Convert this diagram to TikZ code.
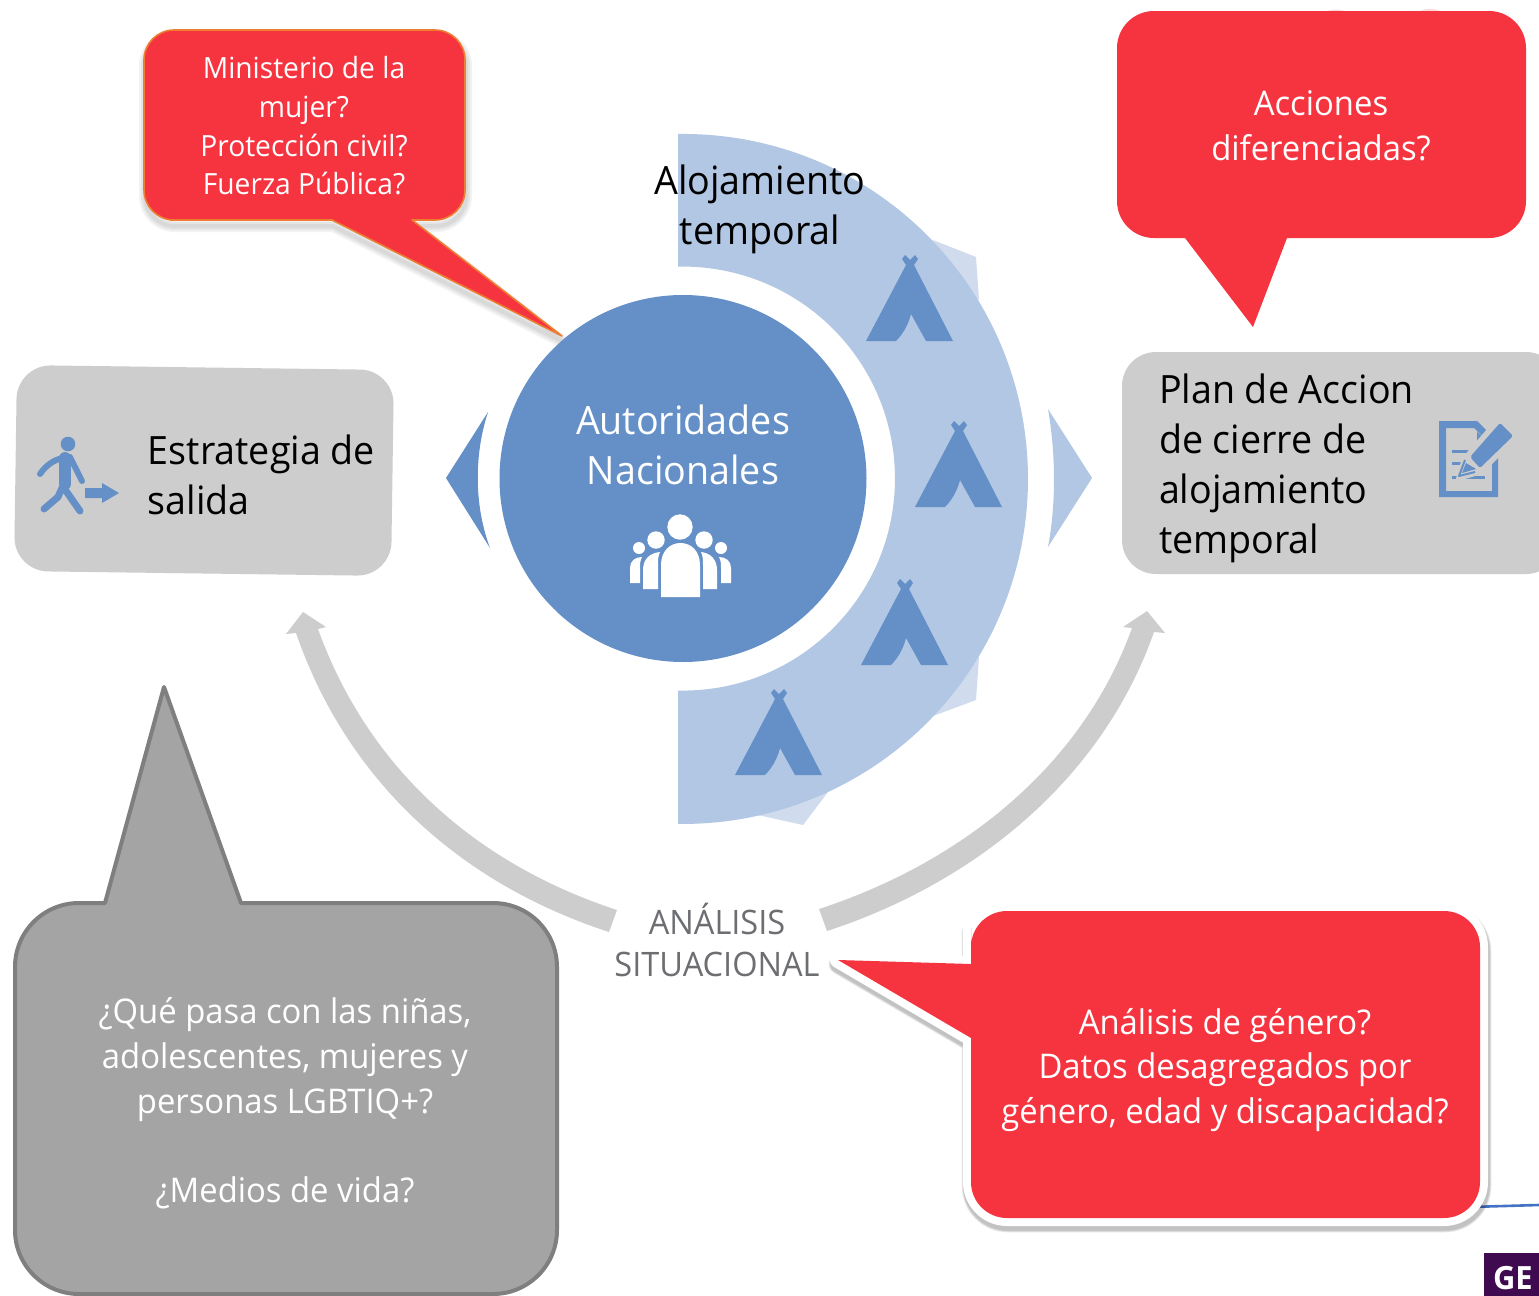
\documentclass[tikz,border=0pt]{standalone}
\usepackage{fontspec}
\setmainfont[FakeStretch=0.965]{Open Sans}
\definecolor{redc}{HTML}{F63440}
\definecolor{blued}{HTML}{6490C7}
\definecolor{bluel}{HTML}{B2C7E3}
\definecolor{bluep}{HTML}{D0DCED}
\definecolor{grayb}{HTML}{CDCDCD}
\definecolor{grayc}{HTML}{A4A4A4}
\definecolor{graye}{HTML}{7F7F7F}
\definecolor{graytxt}{HTML}{6D6E71}
\definecolor{orangec}{HTML}{ED7D31}
\definecolor{purp}{HTML}{3F0A4F}
\definecolor{lineb}{HTML}{4472C4}
\definecolor{pinkp}{HTML}{FBDDDF}
\newcommand\pathA{(300,30) [rounded corners=15pt] -- (144,30) -- (144,220) -- (200,220) [sharp corners] -- (332,220) -- (562,336) -- (412,220) [rounded corners=15pt] -- (465,220) -- (465,30) -- cycle}
\newcommand\pathB{(1154,11) -- (1489,11) .. controls (1509.4,11) and (1526,27.6) .. (1526,48) -- (1526,201) .. controls (1526,221.4) and (1509.4,238) .. (1489,238) -- (1287,238) -- (1253,327) -- (1185,238) -- (1154,238) .. controls (1133.6,238) and (1117,221.4) .. (1117,201) -- (1117,48) .. controls (1117,27.6) and (1133.6,11) .. (1154,11) -- cycle}
\newcommand\pathC{(1200,911) [rounded corners=18pt] -- (971,911) -- (971,964) [sharp corners] -- (971,964) -- (838,960) -- (971,1038) [rounded corners=18pt] -- (971,1218) -- (1480,1218) -- (1480,911) -- cycle}
\newcommand\pathD{(90,903) [rounded corners=32pt] -- (15,903) -- (15,1294) -- (557,1294) -- (557,903) -- (400,903) [sharp corners] -- (241,903) -- (164,687) -- (105,903) -- cycle}
\tikzset{
  txt/.style={align=center,inner sep=0pt,outer sep=0pt},
  softshadow/.style={black,opacity=.05,line join=round,fill opacity=.05},
  tentpic/.pic={
    \fill[blued] (-44,0) -- (-4,-76) -- (-8,-82) -- (-5,-86) -- (0,-81) -- (5,-86) -- (8,-82) -- (4,-76) -- (43,0) -- (16,0) -- (1,-27) .. controls (-2,-15) and (-8,-6) .. (-14,0) -- cycle;
  }
}
\begin{document}
\begin{tikzpicture}[x=.5pt,y=-.5pt]
\useasboundingbox (0,0) rectangle (1539,1296);
\clip (0,0) rectangle (1539,1296);
\fill[white] (0,0) rectangle (1539,1296);
% stray pieces peeking out
\fill[pinkp] (1323,14) .. controls (1328,8) and (1344,8) .. (1349,14) -- cycle;
\fill[pinkp] (1416,14) .. controls (1422,7) and (1438,7) .. (1444,14) -- cycle;
\draw[lineb,line width=1.3pt] (1470,1207) -- (1539,1205);
% grey arrows
\fill[grayb] (609,932) .. controls (462,884) and (348,783) .. (296,633) -- (286,634) -- (303,612) -- (326,627) -- (318,629) .. controls (368,768) and (476,864) .. (617,910) -- cycle;
\fill[grayb] (827,931) .. controls (974,883) and (1102,780) .. (1154,632) -- (1165,633) -- (1147,611) -- (1123,627) -- (1132,628) .. controls (1082,767) and (960,863) .. (819,909) -- cycle;
% red callout top-left
\foreach \w in {6,4,2}{\draw[softshadow,line width=\w pt,shift={(1,6)}] \pathA;}
\filldraw[draw=orangec,fill=redc,line width=.8pt,line join=round] \pathA;
\node[txt,white,font=\fontsize{14.6}{19.35}\selectfont] (ministerio) at (304,126) {Ministerio de la\\mujer?\\Protección civil?\\Fuerza Pública?};
% ring
\fill[bluep] (933,240) -- (976,257) -- (979,300) -- (950,285) -- cycle;
\fill[bluep] (979,657) -- (976,700) -- (933,716) -- (950,680) -- cycle;
\fill[bluep] (828,792) -- (803,825) -- (758,815) -- (790,790) -- cycle;
\fill[bluel] (678,134) arc[start angle=-90.83,end angle=90.83,radius=345] -- (678,690.5) arc[start angle=91.35,end angle=-91.35,radius=212] -- cycle;
\pic at (910,341) {tentpic};
\pic at (959,507) {tentpic};
\pic at (905,665) {tentpic};
\pic at (779,775) {tentpic};
% chevrons
\fill[blued] (488,412) -- (446,478) -- (490,548) .. controls (474,505) and (474,455) .. (488,412) -- cycle;
\fill[bluel] (1048,409) -- (1092,478) -- (1048,547) .. controls (1056,505) and (1056,455) .. (1048,409) -- cycle;
% centre
\fill[blued] (683,478.5) circle[radius=183.5];
\node[txt,white,font=\fontsize{19.5}{25}\selectfont] (autoridades) at (683,445) {Autoridades\\Nacionales};
% people icon
\fill[white] (680,527) circle[radius=12.7] (656,540) circle[radius=8.7] (704,540) circle[radius=8.7] (639,548) circle[radius=6] (721,548) circle[radius=6];
\fill[white] (661,597) -- (661,565) .. controls (661,551) and (670,543) .. (680.5,543) .. controls (691,543) and (700,551) .. (700,565) -- (700,597) -- cycle;
\fill[white] (643,589) -- (643,570) .. controls (643,559) and (650,553) .. (660,552) .. controls (658,556) and (658,560) .. (658,566) -- (658,589) -- cycle;
\fill[white] (717,589) -- (717,570) .. controls (717,559) and (710,553) .. (701,552) .. controls (703,556) and (703,560) .. (703,566) -- (703,589) -- cycle;
\fill[white] (630,583) -- (630,568) .. controls (630,561) and (635,557) .. (642,557) .. controls (640,561) and (640,564) .. (640,568) -- (640,583) -- cycle;
\fill[white] (731,583) -- (731,568) .. controls (731,561) and (726,557) .. (719,557) .. controls (721,561) and (721,564) .. (721,568) -- (721,583) -- cycle;
% left box
\fill[grayb,rounded corners=17pt] (17,365) -- (394,370) -- (391,576) -- (14,571) -- cycle;
\node[txt,align=left,anchor=west,font=\fontsize{19.5}{25}\selectfont] (estrategia) at (148,475) {Estrategia de\\salida};
% walker
\fill[blued] (68,444) circle[radius=7.3];
\draw[blued,line width=3pt,line cap=round,line join=round] (67,457) .. controls (55,459) and (47,464) .. (40,474);
\draw[blued,line width=3pt,line cap=round] (70,457) -- (82,481);
\draw[blued,line width=6pt,line cap=round] (65,458) -- (65,484);
\draw[blued,line width=3.5pt,line cap=round,line join=round] (62,488) -- (58,497) -- (44,509);
\draw[blued,line width=3.5pt,line cap=round] (64,488) -- (80,511);
\fill[blued] (85,488) -- (102,488) -- (102,483) -- (119,493) -- (102,503) -- (102,498) -- (85,498) -- cycle;
% right box
\fill[grayb,rounded corners=17pt] (1122,352) rectangle (1560,574);
\node[txt,align=left,anchor=west,font=\fontsize{19.5}{25}\selectfont] (plan) at (1159,468) {Plan de Accion\\de cierre de\\alojamiento\\temporal};
% document icon
\fill[blued,even odd rule] (1439,421) -- (1477,421) -- (1498,442) -- (1498,497) -- (1439,497) -- cycle (1446,428) -- (1474,428) -- (1492,446) -- (1492,491) -- (1446,491) -- cycle;
\fill[blued] (1477,432) -- (1484,438) -- (1477,442) -- cycle;
\fill[blued] (1452,450) rectangle (1473,453);
\fill[blued] (1452,462) rectangle (1465,465);
\fill[blued] (1452,476) rectangle (1485,479);
\fill[grayb] (1462,458) -- (1500,414) -- (1520,436) -- (1482,474) -- (1455,482) -- cycle;
\fill[blued,rounded corners=1pt] (1470,457) -- (1500,423) -- (1513,436) -- (1480,468) -- cycle;
\draw[blued,line width=1pt,line join=round] (1465,460) -- (1459,476) -- (1475,472);
\fill[blued] (1466,463) -- (1476,469) -- (1462,473) -- cycle;
% alojamiento label
\node[txt,black,font=\fontsize{19.5}{25}\selectfont] (alojamiento) at (760,209) {Alojamiento\\temporal};
% analisis
\node[txt,graytxt,font=\fontsize{16.85}{21}\selectfont] (analisis) at (717,940) {ANÁLISIS\\SITUACIONAL};
% red callout top-right
\fill[redc] \pathB;
\node[txt,white,font=\fontsize{17}{22.25}\selectfont] (acciones) at (1321,126) {Acciones\\diferenciadas?};
% red callout bottom-right
\foreach \w in {10.5,10,9.5,9,8.5}{\draw[softshadow,line width=\w pt,shift={(1,4)}] \pathC;}
\filldraw[draw=white,fill=white,line width=8pt,line join=round] \pathC;
\fill[redc] \pathC;
\node[txt,white,font=\fontsize{17}{22.35}\selectfont] (analisisgen) at (1225,1070) {Análisis de género?\\Datos desagregados por\\género, edad y discapacidad?};
% grey callout
\filldraw[draw=graye,fill=grayc,line width=2pt,line join=round] \pathD;
\node[txt,white,font=\fontsize{17}{22.35}\selectfont] (ninas) at (285,1103.5) {¿Qué pasa con las niñas,\\adolescentes, mujeres y\\personas LGBTIQ+?\\[0pt]\mbox{}\\¿Medios de vida?};
% corner badge
\fill[purp] (1484,1253) rectangle (1539,1296);
\node[txt,white,font=\fontsize{16}{16}\selectfont\bfseries,anchor=base west] (ge) at (1493,1289) {GE};
\end{tikzpicture}
\end{document}
